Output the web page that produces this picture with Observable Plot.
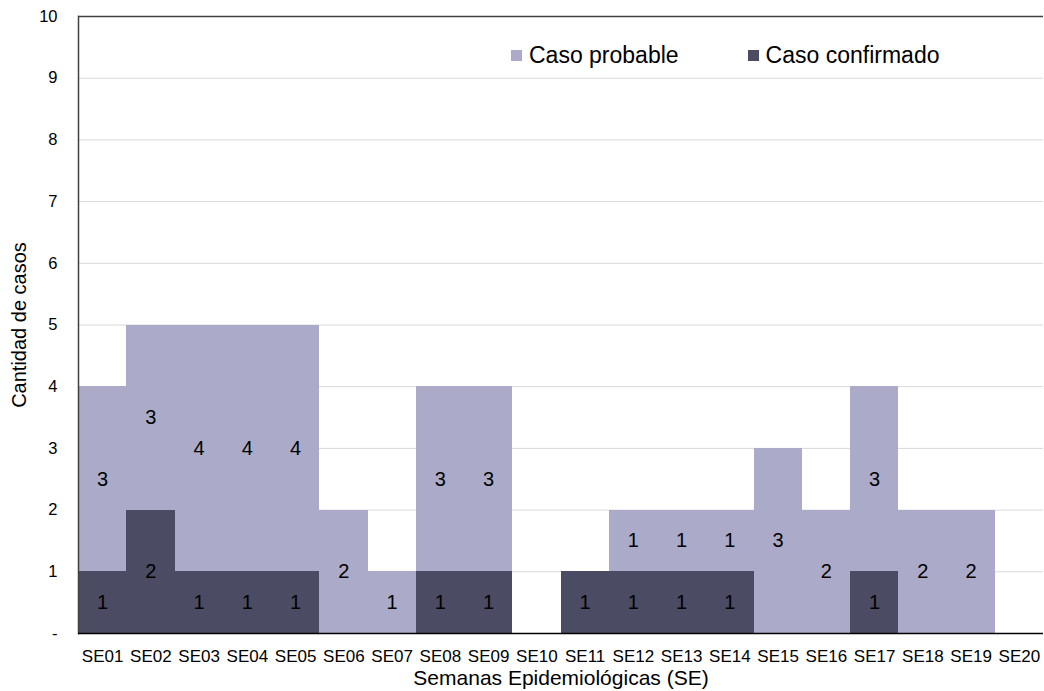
<!DOCTYPE html>
<html><head><meta charset="utf-8">
<script src="https://cdn.jsdelivr.net/npm/d3@7"></script>
<script src="https://cdn.jsdelivr.net/npm/@observablehq/plot@0.6"></script>
<style>
body{margin:0;background:#fff;font-family:"Liberation Sans",Arial,sans-serif;}
#wrap{position:relative;width:1044px;height:691px;}
#legend{position:absolute;left:511px;top:42px;display:flex;font-size:23px;line-height:26px;color:#000;}
.item{display:flex;align-items:center;margin-right:69px;}
.sw{width:11px;height:11px;margin-right:7px;}
</style>
</head><body>
<div id="wrap"><div id="legend"></div></div>
<script>
const weeks = ["SE01","SE02","SE03","SE04","SE05","SE06","SE07","SE08","SE09","SE10","SE11","SE12","SE13","SE14","SE15","SE16","SE17","SE18","SE19","SE20"];
const confirmados = [1,2,1,1,1,0,0,1,1,0,1,1,1,1,0,0,1,0,0,0];
const probables   = [3,3,4,4,4,2,1,3,3,0,0,1,1,1,3,2,3,2,2,0];
const series = ["Caso confirmado","Caso probable"];
const colors = ["#4b4b63","#ababc9"];
const legendOrder = ["Caso probable","Caso confirmado"];
const yTicks = [0,1,2,3,4,5,6,7,8,9,10];

const rows = [];
weeks.forEach((w,i)=>{
  rows.push({week:w, serie:series[0], value:confirmados[i]});
  rows.push({week:w, serie:series[1], value:probables[i]});
});

const chart = Plot.plot({
  width:1044, height:691,
  marginLeft:78, marginRight:1, marginTop:16, marginBottom:58,
  style:{fontFamily:"Liberation Sans, Arial, sans-serif", background:"#fff"},
  x:{domain:weeks, padding:0, round:false, label:null},
  y:{domain:[0,10], label:null},
  color:{domain:series, range:colors},
  marks:[
    Plot.ruleY(yTicks.filter(d=>d>0 && d<10), {stroke:"#d9d9d9", strokeWidth:1}),
    Plot.barY(rows, {x:"week", y:"value", fill:"serie", order:series, shapeRendering:"crispEdges"}),
    Plot.text(rows, Plot.stackY({x:"week", y:"value", z:"serie", order:series, text:"value", filter:d=>d.value>0, fontSize:20, fill:"#000"})),
    Plot.ruleY([10], {stroke:"#404040", strokeWidth:1.5}),
    Plot.frame({anchor:"left", stroke:"#404040", strokeWidth:1.5}),
    Plot.ruleY([0], {stroke:"#000", strokeWidth:1.5}),
    Plot.axisY(yTicks, {tickSize:0, tickPadding:21, fontSize:16.5, tickFormat:d=>d===0?"-":d, fill:"#000", label:null}),
    Plot.axisX({tickSize:0, tickPadding:16, fontSize:17, fill:"#000", label:null}),
    Plot.text(["Semanas Epidemiológicas (SE)"], {frameAnchor:"bottom", textAnchor:"middle", dy:51, fontSize:21, fill:"#000"}),
    Plot.text(["Cantidad de casos"], {frameAnchor:"left", textAnchor:"middle", dx:-59, rotate:-90, fontSize:20, fill:"#000"})
  ]
});
chart.style.position="absolute"; chart.style.left="0"; chart.style.top="0";
const wrap = document.getElementById("wrap");
wrap.insertBefore(chart, wrap.firstChild);

const legend = document.getElementById("legend");
legendOrder.forEach(s=>{
  const it=document.createElement("div"); it.className="item";
  const sw=document.createElement("div"); sw.className="sw"; sw.style.background=colors[series.indexOf(s)];
  const tx=document.createElement("span"); tx.textContent=s;
  it.appendChild(sw); it.appendChild(tx); legend.appendChild(it);
});
</script>
</body></html>
